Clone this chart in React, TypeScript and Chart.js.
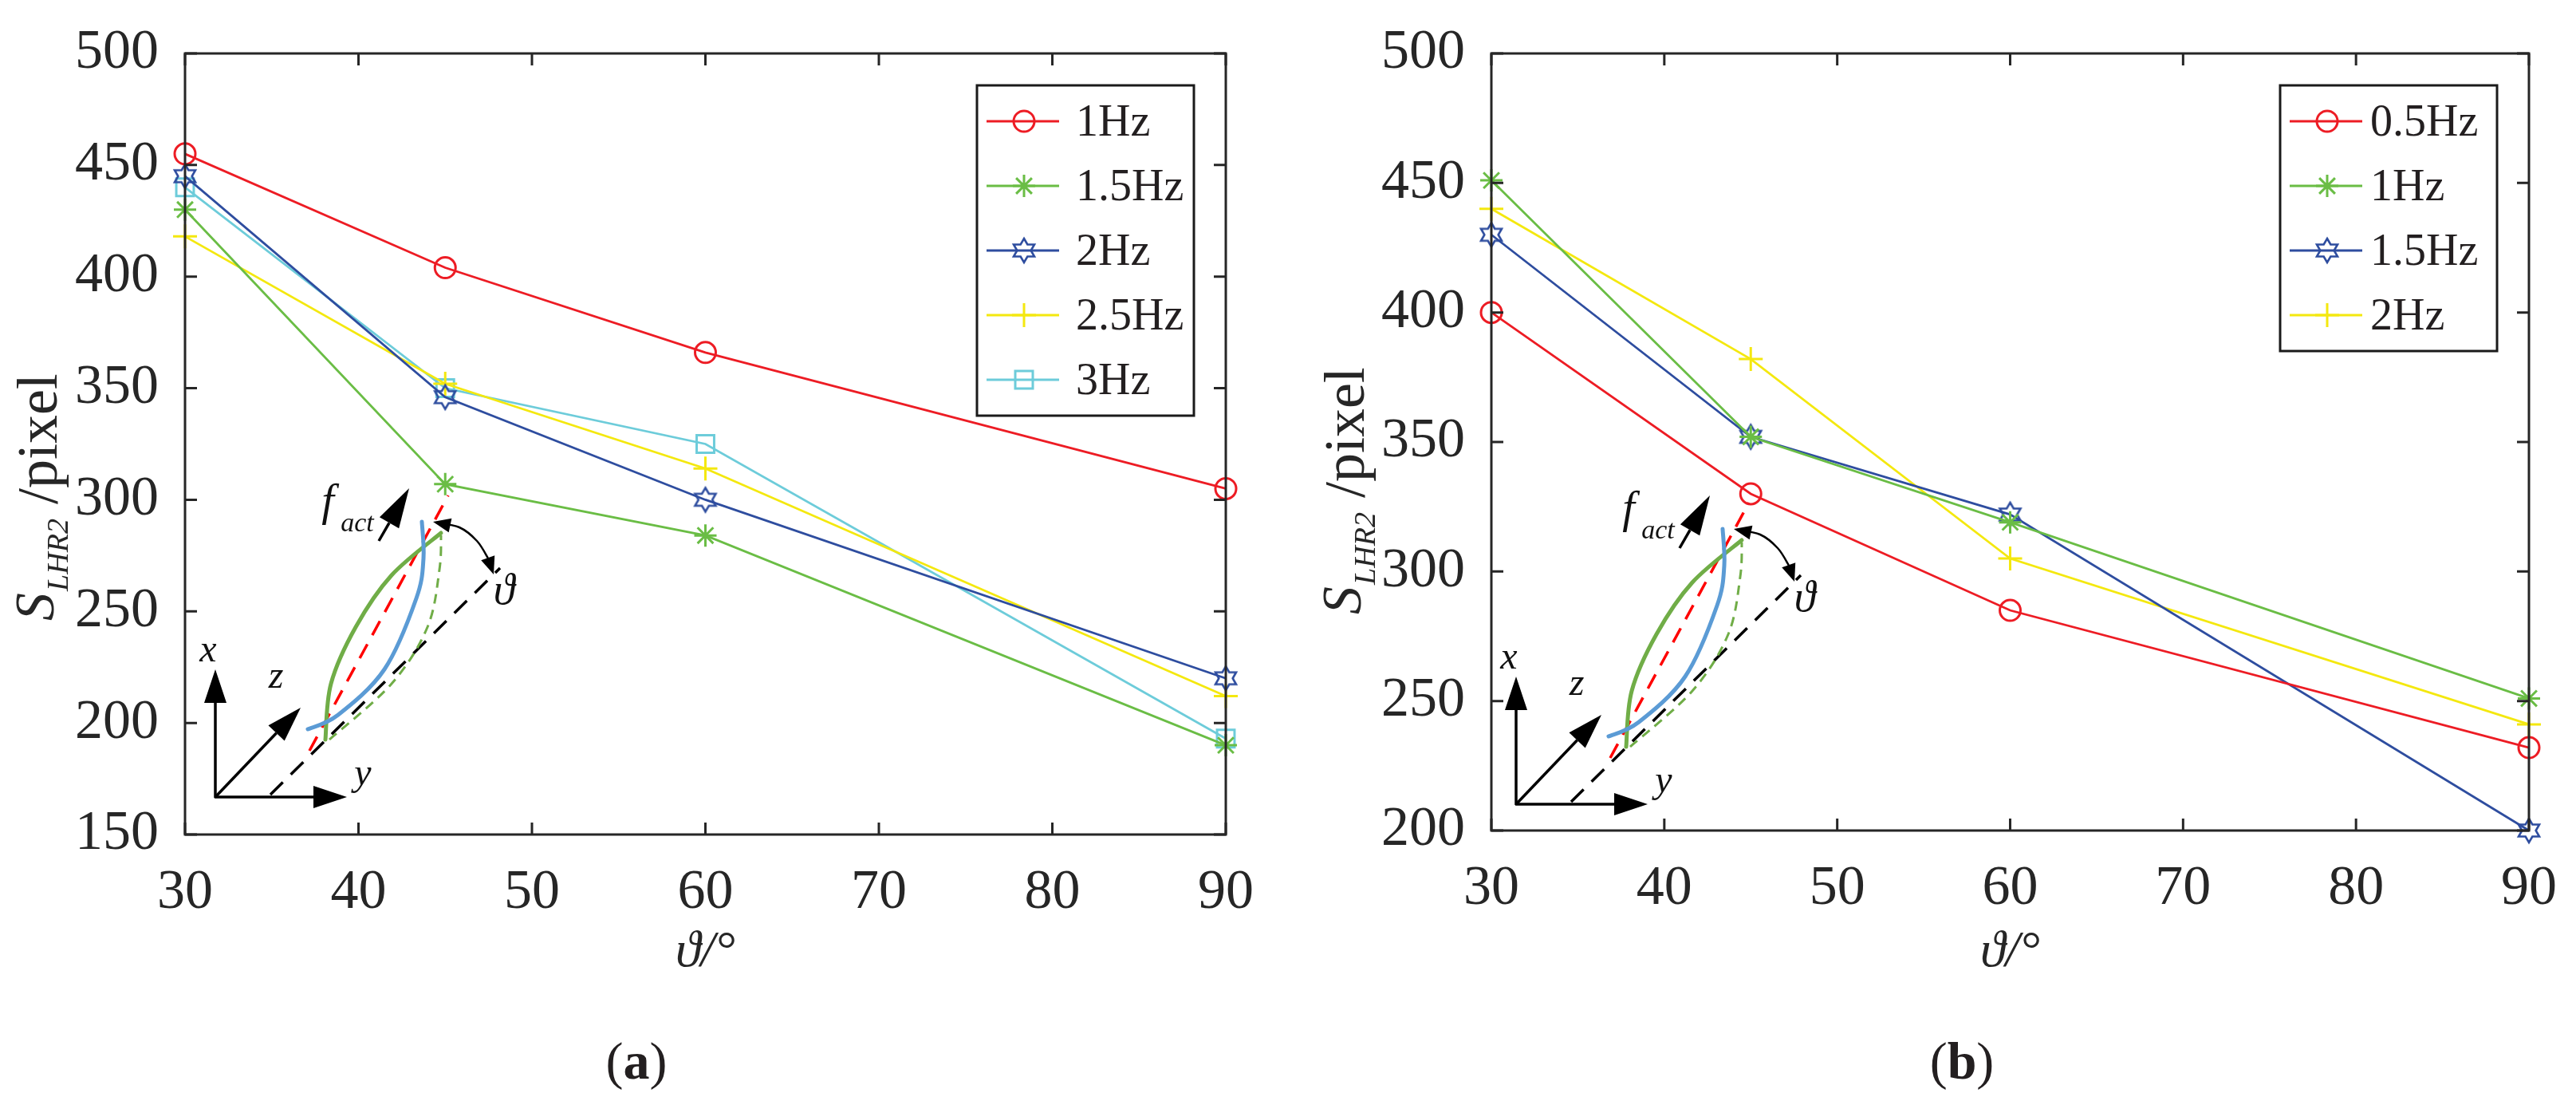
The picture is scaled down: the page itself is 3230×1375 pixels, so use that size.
import { useEffect, useRef } from "react";
import { Chart, registerables } from "chart.js";

Chart.register(...registerables);

// ---- data ----
const angles = [30, 45, 60, 90];
const xTickValues = [30, 40, 50, 60, 70, 80, 90];

const leftLabels = ["1Hz", "1.5Hz", "2Hz", "2.5Hz", "3Hz"];
const left1Hz = [455, 404, 366, 305];
const left15Hz = [430, 307, 284, 190];
const left2Hz = [445, 346, 300, 220];
const left25Hz = [418, 352, 314, 212];
const left3Hz = [440, 350, 325, 193];
const leftYTicks = [150, 200, 250, 300, 350, 400, 450, 500];

const rightLabels = ["0.5Hz", "1Hz", "1.5Hz", "2Hz"];
const right05Hz = [400, 330, 285, 232];
const right1Hz = [451, 352, 319, 251];
const right15Hz = [430, 352, 322, 200];
const right2Hz = [440, 382, 305, 241];
const rightYTicks = [200, 250, 300, 350, 400, 450, 500];

const RED = "#ED1C24";
const GREEN = "#6ABD45";
const BLUE = "#2E4D9F";
const YELLOW = "#F4E80F";
const CYAN = "#6DCCDA";
const INK = "#262626";
const SERIF = "'Liberation Serif', 'Times New Roman', serif";

let hexCanvas: HTMLCanvasElement | null = null;
function hexagram(): HTMLCanvasElement {
  if (hexCanvas) return hexCanvas;
  const c = document.createElement("canvas");
  c.width = 40;
  c.height = 40;
  const ctx = c.getContext("2d")!;
  const R = 15;
  const r = R / Math.sqrt(3);
  ctx.beginPath();
  for (let i = 0; i < 12; i++) {
    const a = -Math.PI / 2 + (i * Math.PI) / 6;
    const rad = i % 2 === 0 ? R : r;
    const x = 20 + rad * Math.cos(a);
    const y = 20 + rad * Math.sin(a);
    if (i === 0) ctx.moveTo(x, y);
    else ctx.lineTo(x, y);
  }
  ctx.closePath();
  ctx.strokeStyle = BLUE;
  ctx.lineWidth = 2.6;
  ctx.stroke();
  hexCanvas = c;
  return c;
}

const markerRadius: Record<string, number> = {
  circle: 13,
  star: 14,
  cross: 15,
  rect: 15.5,
};

function series(label: string, values: number[], color: string, style: string) {
  const ps: any = style === "hex" ? hexagram() : style;
  return {
    label,
    data: angles.map((a, i) => ({ x: a, y: values[i] })),
    borderColor: color,
    backgroundColor: "transparent",
    borderWidth: 2.8,
    pointStyle: ps,
    pointRadius: style === "hex" ? 15 : markerRadius[style],
    pointBorderWidth: 3,
    pointBorderColor: color,
    pointBackgroundColor: "transparent",
    clip: false as any,
    tension: 0,
    _marker: style,
  };
}

function drawMarker(ctx: CanvasRenderingContext2D, style: string, x: number, y: number, color: string) {
  ctx.save();
  ctx.strokeStyle = color;
  ctx.lineWidth = 3;
  ctx.beginPath();
  if (style === "circle") {
    ctx.arc(x, y, 13, 0, Math.PI * 2);
  } else if (style === "star") {
    const r = 14;
    ctx.moveTo(x, y - r);
    ctx.lineTo(x, y + r);
    ctx.moveTo(x - r, y);
    ctx.lineTo(x + r, y);
    const d = r * Math.SQRT1_2;
    ctx.moveTo(x - d, y - d);
    ctx.lineTo(x + d, y + d);
    ctx.moveTo(x - d, y + d);
    ctx.lineTo(x + d, y - d);
  } else if (style === "cross") {
    ctx.moveTo(x, y - 15);
    ctx.lineTo(x, y + 15);
    ctx.moveTo(x - 15, y);
    ctx.lineTo(x + 15, y);
  } else if (style === "rect") {
    ctx.rect(x - 11, y - 11, 22, 22);
  }
  ctx.stroke();
  if (style === "hex") {
    const c = hexagram();
    ctx.drawImage(c, x - c.width / 2, y - c.height / 2);
  }
  ctx.restore();
}

function smoothPath(ctx: CanvasRenderingContext2D, pts: number[][]) {
  ctx.moveTo(pts[0][0], pts[0][1]);
  for (let i = 0; i < pts.length - 1; i++) {
    const p0 = pts[i - 1] || pts[i];
    const p1 = pts[i];
    const p2 = pts[i + 1];
    const p3 = pts[i + 2] || p2;
    ctx.bezierCurveTo(
      p1[0] + (p2[0] - p0[0]) / 6,
      p1[1] + (p2[1] - p0[1]) / 6,
      p2[0] - (p3[0] - p1[0]) / 6,
      p2[1] - (p3[1] - p1[1]) / 6,
      p2[0],
      p2[1]
    );
  }
}

function arrowHead(ctx: CanvasRenderingContext2D, fx: number, fy: number, tx: number, ty: number, len: number, half: number) {
  const a = Math.atan2(ty - fy, tx - fx);
  const bx = tx - len * Math.cos(a);
  const by = ty - len * Math.sin(a);
  ctx.beginPath();
  ctx.moveTo(tx, ty);
  ctx.lineTo(bx + half * Math.sin(a), by - half * Math.cos(a));
  ctx.lineTo(bx - half * Math.sin(a), by + half * Math.cos(a));
  ctx.closePath();
  ctx.fill();
  return [bx, by];
}

function arrow(ctx: CanvasRenderingContext2D, fx: number, fy: number, tx: number, ty: number, len: number, half: number) {
  const [bx, by] = arrowHead(ctx, fx, fy, tx, ty, len, half);
  ctx.beginPath();
  ctx.moveTo(fx, fy);
  ctx.lineTo(bx, by);
  ctx.stroke();
}

// sketch of the actuator in the lower left corner
function drawInset(ctx: CanvasRenderingContext2D, ox: number, oy: number) {
  const P = (p: number[]) => [ox + p[0], oy + p[1]];
  ctx.save();
  ctx.lineCap = "butt";

  // black dashed reference line
  ctx.strokeStyle = "#000";
  ctx.lineWidth = 3.5;
  ctx.setLineDash([22, 14]);
  ctx.beginPath();
  ctx.moveTo(...(P([69, -3]) as [number, number]));
  ctx.lineTo(...(P([357, -287]) as [number, number]));
  ctx.stroke();

  // green dashed
  ctx.strokeStyle = "#70AD47";
  ctx.lineWidth = 3;
  ctx.setLineDash([12, 8]);
  ctx.beginPath();
  smoothPath(ctx, [[143, -72], [221, -142], [266, -213], [281, -285], [283, -328]].map(P));
  ctx.stroke();

  // red dashed
  ctx.strokeStyle = "#FF0000";
  ctx.lineWidth = 3.5;
  ctx.setLineDash([20, 13]);
  ctx.beginPath();
  ctx.moveTo(...(P([118, -58]) as [number, number]));
  ctx.lineTo(...(P([292, -378]) as [number, number]));
  ctx.stroke();
  ctx.setLineDash([]);

  // green solid
  ctx.strokeStyle = "#70AD47";
  ctx.lineWidth = 5;
  ctx.lineCap = "round";
  ctx.beginPath();
  smoothPath(ctx, [[138, -72], [145, -142], [176, -213], [221, -278], [283, -331]].map(P));
  ctx.stroke();

  // blue solid
  ctx.strokeStyle = "#5B9BD5";
  ctx.beginPath();
  smoothPath(ctx, [[116, -85], [154, -103], [212, -160], [252, -249], [261, -299], [259, -345]].map(P));
  ctx.stroke();
  ctx.lineCap = "butt";

  // coordinate axes
  ctx.strokeStyle = "#000";
  ctx.fillStyle = "#000";
  ctx.lineWidth = 3.5;
  arrow(ctx, ox, oy + 1, ox, oy - 160, 42, 14);
  arrow(ctx, ox - 1, oy, ox + 165, oy, 42, 14);
  arrow(ctx, ox, oy, ox + 107, oy - 112, 44, 14);

  // f_act arrow
  arrow(ctx, ox + 205, oy - 321, ox + 243, oy - 387, 50, 14);

  // angle arrow
  const arc = [[277, -344], [306, -338], [328, -321], [342, -299], [348, -285]].map(P);
  ctx.lineWidth = 2.5;
  ctx.beginPath();
  smoothPath(ctx, arc);
  ctx.stroke();
  arrowHead(ctx, arc[1][0], arc[1][1], arc[0][0] - 4, arc[0][1] - 1, 22, 9);
  arrowHead(ctx, arc[3][0], arc[3][1], arc[4][0] + 1, arc[4][1] + 6, 22, 9);

  // letters
  ctx.fillStyle = "#111";
  ctx.textAlign = "center";
  ctx.textBaseline = "middle";
  ctx.font = `italic 48px ${SERIF}`;
  ctx.fillText("x", ox - 9, oy - 183);
  ctx.fillText("z", ox + 76, oy - 150);
  ctx.fillText("y", ox + 185, oy - 28);
  ctx.font = `italic 54px ${SERIF}`;
  ctx.fillText("ϑ", ox + 362, oy - 256);
  ctx.font = `italic 56px ${SERIF}`;
  ctx.fillText("f", ox + 141, oy - 368);
  ctx.font = `italic 34px ${SERIF}`;
  ctx.fillText("act", ox + 178, oy - 342);
  ctx.restore();
}

interface FrameOpts {
  insetDx: number;
  insetDy: number;
  textDx: number;
  titleX: number;
  titleY: number;
}

function framePlugin(o: FrameOpts) {
  return {
    id: "frame",
    beforeDatasetsDraw(chart: any) {
      const { left, bottom } = chart.chartArea;
      drawInset(chart.ctx, left + o.insetDx, bottom + o.insetDy);
    },
    afterDatasetsDraw(chart: any) {
      const ctx: CanvasRenderingContext2D = chart.ctx;
      const { left, right, top, bottom } = chart.chartArea;
      const xs = chart.scales.x;
      const ys = chart.scales.y;
      ctx.save();
      ctx.strokeStyle = INK;
      ctx.lineWidth = 3;
      ctx.beginPath();
      xs.ticks.forEach((t: any) => {
        const px = xs.getPixelForValue(t.value);
        ctx.moveTo(px, bottom);
        ctx.lineTo(px, bottom - 15);
        ctx.moveTo(px, top);
        ctx.lineTo(px, top + 15);
      });
      ys.ticks.forEach((t: any) => {
        const py = ys.getPixelForValue(t.value);
        ctx.moveTo(left, py);
        ctx.lineTo(left + 15, py);
        ctx.moveTo(right, py);
        ctx.lineTo(right - 15, py);
      });
      ctx.stroke();
      ctx.strokeRect(left, top, right - left, bottom - top);

      // legend
      const sets = chart.data.datasets;
      const bw = 272;
      const bh = 90 + (sets.length - 1) * 81;
      const bx = right - 40 - bw;
      const by = top + 40;
      ctx.fillStyle = "#fff";
      ctx.fillRect(bx, by, bw, bh);
      ctx.strokeStyle = "#1a1a1a";
      ctx.strokeRect(bx, by, bw, bh);
      ctx.font = `56px ${SERIF}`;
      ctx.textBaseline = "middle";
      ctx.textAlign = "left";
      sets.forEach((d: any, i: number) => {
        const y = by + 45 + i * 81;
        ctx.strokeStyle = d.borderColor;
        ctx.lineWidth = 3;
        ctx.beginPath();
        ctx.moveTo(bx + 12, y);
        ctx.lineTo(bx + 103, y);
        ctx.stroke();
        drawMarker(ctx, d._marker, bx + 59, y, d.borderColor);
        ctx.fillStyle = "#231F20";
        ctx.fillText(d.label, bx + o.textDx, y + 3);
      });
      ctx.restore();
    },
    afterDraw(chart: any) {
      // y axis title: S_LHR2 /pixel, rotated
      const ctx: CanvasRenderingContext2D = chart.ctx;
      ctx.save();
      ctx.translate(o.titleX, o.titleY);
      ctx.rotate(-Math.PI / 2);
      ctx.fillStyle = INK;
      ctx.textBaseline = "alphabetic";
      ctx.textAlign = "left";
      const fS = `italic 70px ${SERIF}`;
      const fSub = `italic 38px ${SERIF}`;
      const fMain = `72px ${SERIF}`;
      ctx.font = fS;
      const wS = ctx.measureText("S").width;
      ctx.font = fSub;
      const wSub = ctx.measureText("LHR2").width;
      ctx.font = fMain;
      const wMain = ctx.measureText(" /pixel").width;
      let x = -(wS + wSub + wMain) / 2;
      ctx.font = fS;
      ctx.fillText("S", x, -4);
      x += wS + 2;
      ctx.font = fSub;
      ctx.fillText("LHR2", x, 14);
      x += wSub;
      ctx.font = fMain;
      ctx.fillText(" /pixel", x, 0);
      ctx.restore();
    },
  };
}

interface PanelProps {
  datasets: any[];
  yTicks: number[];
  width: number;
  height: number;
  padTop: number;
  padRight: number;
  yWidth: number;
  xHeight: number;
  frame: FrameOpts;
}

function Panel(p: PanelProps) {
  const canvasRef = useRef<HTMLCanvasElement | null>(null);

  useEffect(() => {
    if (!canvasRef.current) return;
    const chart = new Chart(canvasRef.current, {
      type: "line",
      data: { datasets: p.datasets },
      options: {
        responsive: false,
        animation: false,
        devicePixelRatio: 1,
        events: [],
        layout: { padding: { top: p.padTop, right: p.padRight, left: 0, bottom: 0 } },
        plugins: { legend: { display: false }, tooltip: { enabled: false } },
        scales: {
          x: {
            type: "linear",
            min: xTickValues[0],
            max: xTickValues[xTickValues.length - 1],
            grid: { display: false },
            border: { display: false },
            afterBuildTicks: (s: any) => {
              s.ticks = xTickValues.map((v) => ({ value: v }));
            },
            afterFit: (s: any) => {
              s.height = p.xHeight;
            },
            ticks: {
              padding: 24,
              color: INK,
              maxRotation: 0,
              autoSkip: false,
              font: { family: SERIF, size: 70 },
            },
            title: {
              display: true,
              text: "ϑ/°",
              color: INK,
              padding: { top: 0, bottom: 7 },
              font: { family: SERIF, size: 64, style: "italic" },
            },
          },
          y: {
            type: "linear",
            min: p.yTicks[0],
            max: p.yTicks[p.yTicks.length - 1],
            grid: { display: false },
            border: { display: false },
            afterBuildTicks: (s: any) => {
              s.ticks = p.yTicks.map((v) => ({ value: v }));
            },
            afterFit: (s: any) => {
              s.width = p.yWidth;
            },
            ticks: {
              padding: 25,
              color: INK,
              autoSkip: false,
              font: { family: SERIF, size: 70 },
            },
          },
        },
      },
      plugins: [framePlugin(p.frame)],
    });
    return () => chart.destroy();
  }, []);

  return <canvas ref={canvasRef} width={p.width} height={p.height} style={{ display: "block" }} />;
}

const captionStyle: React.CSSProperties = {
  position: "absolute",
  top: 1293,
  width: 200,
  textAlign: "center",
  fontFamily: SERIF,
  fontSize: 66,
  lineHeight: "74px",
  color: "#231F20",
};

export default function App() {
  const leftSets = [
    series(leftLabels[0], left1Hz, RED, "circle"),
    series(leftLabels[1], left15Hz, GREEN, "star"),
    series(leftLabels[2], left2Hz, BLUE, "hex"),
    series(leftLabels[3], left25Hz, YELLOW, "cross"),
    series(leftLabels[4], left3Hz, CYAN, "rect"),
  ];
  const rightSets = [
    series(rightLabels[0], right05Hz, RED, "circle"),
    series(rightLabels[1], right1Hz, GREEN, "star"),
    series(rightLabels[2], right15Hz, BLUE, "hex"),
    series(rightLabels[3], right2Hz, YELLOW, "cross"),
  ];

  return (
    <div style={{ position: "absolute", left: 0, top: 0, width: 3230, height: 1375, background: "#fff", overflow: "hidden" }}>
      <div style={{ position: "absolute", left: 0, top: 0 }}>
        <Panel
          datasets={leftSets}
          yTicks={leftYTicks}
          width={1600}
          height={1240}
          padTop={54}
          padRight={63}
          yWidth={232}
          xHeight={194}
          frame={{ insetDx: 38, insetDy: -47, textDx: 124, titleX: 71, titleY: 624 }}
        />
      </div>
      <div style={{ position: "absolute", left: 1640, top: 0 }}>
        <Panel
          datasets={rightSets}
          yTicks={rightYTicks}
          width={1590}
          height={1240}
          padTop={49}
          padRight={55}
          yWidth={230}
          xHeight={199}
          frame={{ insetDx: 31, insetDy: -33, textDx: 113, titleX: 70, titleY: 616 }}
        />
      </div>
      <div style={{ ...captionStyle, left: 698 }}>
        (<b>a</b>)
      </div>
      <div style={{ ...captionStyle, left: 2360 }}>
        (<b>b</b>)
      </div>
    </div>
  );
}
